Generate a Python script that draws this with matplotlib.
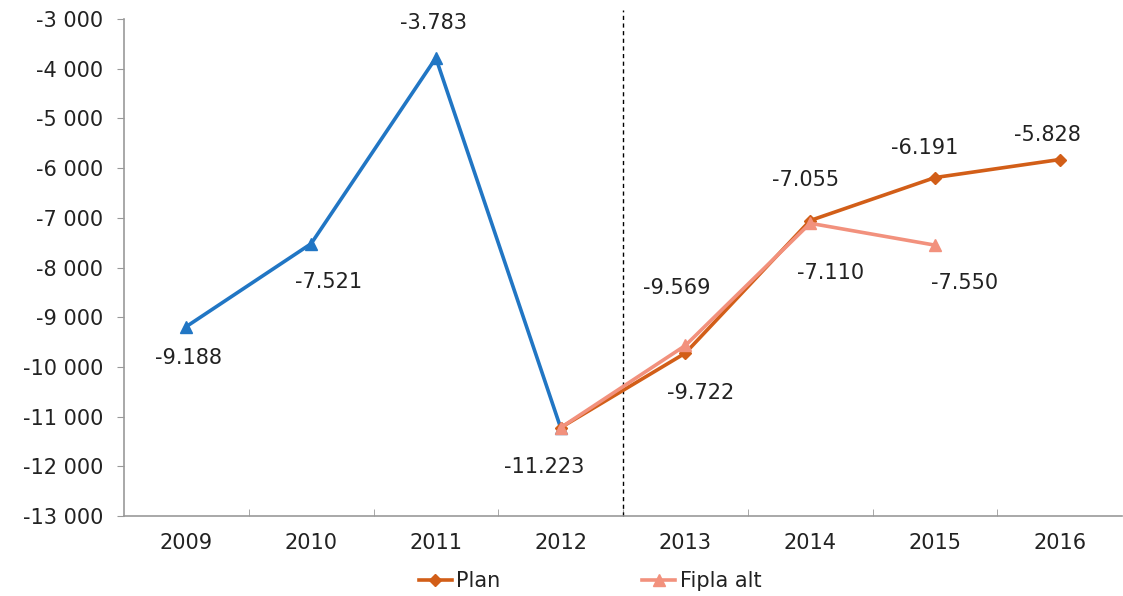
import matplotlib
matplotlib.use("Agg")
import matplotlib.pyplot as plt
import numpy as np

years = ["2009", "2010", "2011", "2012", "2013", "2014", "2015", "2016"]
hist_vals = [-9188, -7521, -3783, -11223]
plan_vals = [-11223, -9722, -7055, -6191, -5828]
fipla_vals = [-11223, -9569, -7110, -7550]
yticks = list(range(-13000, -2999, 1000))

hist_x = np.arange(0, 4)
plan_x = np.arange(3, 8)
fipla_x = np.arange(3, 7)

c_hist = "#2176C4"
c_plan = "#D25E18"
c_fipla = "#F2917D"
txt = "#222222"

plt.rcParams['font.family'] = ['DejaVu Sans']
fig = plt.figure(figsize=(11.23, 5.96), dpi=100)
ax = fig.add_axes([124/1123, 1-516/596, (1122-124)/1123, (516-19)/596])

ax.plot(hist_x, hist_vals, color=c_hist, lw=2.6, marker="^", ms=8, zorder=3)
ax.plot(plan_x, plan_vals, color=c_plan, lw=2.6, marker="D", ms=6, zorder=3, label="Plan")
ax.plot(fipla_x, fipla_vals, color=c_fipla, lw=2.6, marker="^", ms=8, zorder=4, label="Fipla alt")

ax.set_xlim(-0.5, 7.5)
ax.set_ylim(-13000, -3000)

ax.axvline(3.5, ymin=0, ymax=1.018, color="black", ls=(0, (3, 2.5)), lw=1, clip_on=False)

def fmt(v):
    s = f"{abs(v):,}".replace(",", ".")
    return "-" + s

# label offsets in data units (dx, dy)
labels = [
    (0, hist_vals[0], 0.02, -640),
    (1, hist_vals[1], 0.14, -780),
    (2, hist_vals[2], -0.02, 700),
    (3, hist_vals[3], -0.13, -800),
    (4, fipla_vals[1], -0.07, 1160),
    (4, plan_vals[1], 0.12, -800),
    (5, plan_vals[2], -0.04, 820),
    (5, fipla_vals[2], 0.16, -1000),
    (6, plan_vals[3], -0.08, 600),
    (6, fipla_vals[3], 0.24, -760),
    (7, plan_vals[4], -0.1, 500),
]
for x, v, dx, dy in labels:
    ax.text(x + dx, v + dy, fmt(v), ha="center", va="center", fontsize=15, color=txt)

ax.set_yticks(yticks)
ax.set_yticklabels([f"{t:,}".replace(",", " ") for t in yticks])
ax.set_xticks(np.arange(8))
ax.set_xticklabels(years)
ax.set_xticks(np.arange(0.5, 7.5, 1), minor=True)
ax.tick_params(axis="x", which="major", length=0, labelsize=15, labelcolor=txt, pad=12)
ax.tick_params(axis="x", which="minor", direction="in", length=5, color="#999999")
ax.tick_params(axis="y", which="major", direction="out", length=5, color="#999999",
               labelsize=15, labelcolor=txt, pad=10)

for s in ["top", "right"]:
    ax.spines[s].set_visible(False)
for s in ["left", "bottom"]:
    ax.spines[s].set_color("#999999")
    ax.spines[s].set_linewidth(1.2)

leg = fig.legend(handles=ax.get_lines()[1:], labels=["Plan", "Fipla alt"],
                 loc="center", bbox_to_anchor=(590/1123, 1-581/596), ncol=2,
                 frameon=False, fontsize=15, handlelength=1.6, handletextpad=0.2,
                 columnspacing=6.8, labelcolor=txt)

fig.savefig("out.png", dpi=100, facecolor="white")
